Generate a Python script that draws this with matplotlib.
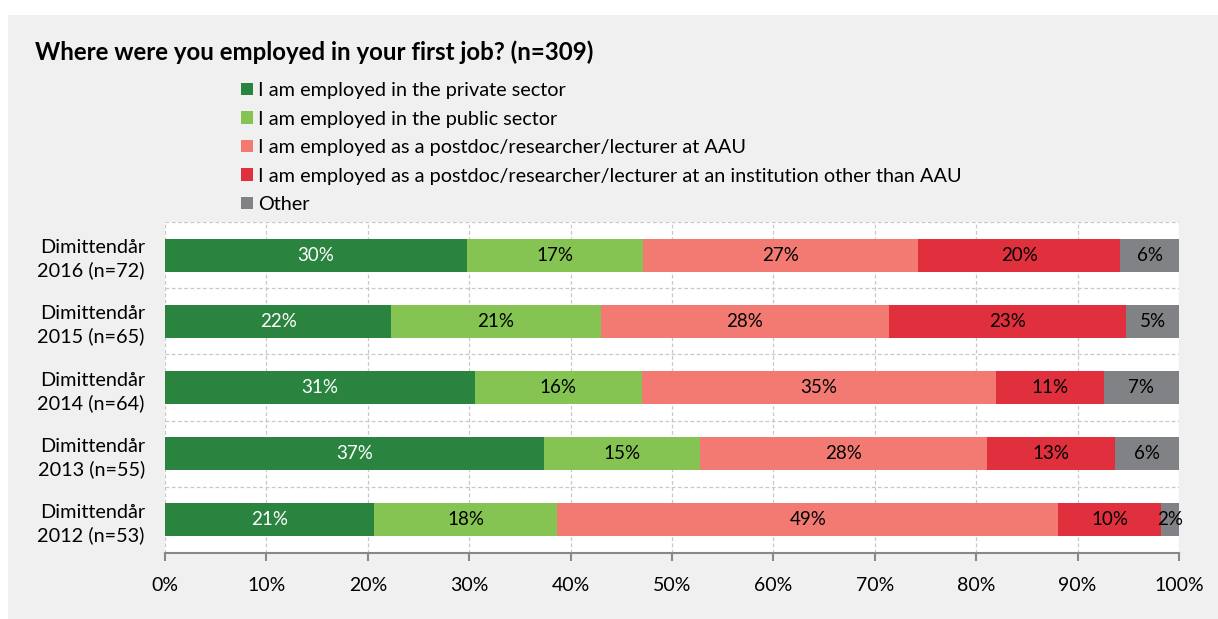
import matplotlib.pyplot as plt
import numpy as np
from matplotlib.patches import Patch, Rectangle
from matplotlib.ticker import FuncFormatter, MultipleLocator, FixedLocator

plt.rcParams['font.family'] = ['Lato', 'DejaVu Sans']

categories = ['Dimittendår\n2016 (n=72)', 'Dimittendår\n2015 (n=65)', 'Dimittendår\n2014 (n=64)',
              'Dimittendår\n2013 (n=55)', 'Dimittendår\n2012 (n=53)']

series = ['I am employed in the private sector',
          'I am employed in the public sector',
          'I am employed as a postdoc/researcher/lecturer at AAU',
          'I am employed as a postdoc/researcher/lecturer at an institution other than AAU',
          'Other']

private = [29.8, 22.3, 30.6, 37.4, 20.6]
public = [17.3, 20.7, 16.4, 15.4, 18.1]
aau = [27.2, 28.4, 35.0, 28.3, 49.4]
other_inst = [19.9, 23.4, 10.6, 12.6, 10.1]
other = [5.8, 5.2, 7.4, 6.3, 1.8]

colors = ['#2a843f', '#85c453', '#f27a73', '#e1303d', '#818285']
text_colors = ['white', 'black', 'black', 'black', 'black']

fig = plt.figure(figsize=(12.18, 6.19), dpi=100)
fig.patch.set_facecolor('white')
# grey panel behind everything
fig.patches.append(Rectangle((8 / 1218, 0), 1, 604 / 619, transform=fig.transFigure,
                             facecolor='#f0f0f0', edgecolor='none', zorder=-10))

ax = fig.add_axes([165 / 1218, 66 / 619, 1014 / 1218, 331 / 619])
ax.set_facecolor('white')

y = np.arange(len(categories))
left = np.zeros(len(categories))
for vals, name, c, tc in zip([private, public, aau, other_inst, other], series, colors, text_colors):
    vals = np.array(vals)
    ax.barh(y, vals, left=left, height=0.5, color=c, label=name, zorder=3)
    for xi, yi, v in zip(left + vals / 2, y, vals):
        ax.text(xi, yi, format(v, '.0f') + '%', ha='center', va='center',
                color=tc, fontsize=13.5, zorder=4)
    left += vals

ax.set_xlim(0, 100)
ax.set_ylim(len(categories) - 0.5, -0.5)
ax.set_yticks(y)
ax.set_yticklabels(categories, fontsize=14.3, ha='right', linespacing=1.35)
ax.tick_params(axis='y', length=0, pad=14.5)
ax.yaxis.set_minor_locator(FixedLocator(np.arange(-0.5, len(categories) - 1, 1.0)))
ax.tick_params(axis='y', which='minor', length=0)

ax.xaxis.set_major_locator(MultipleLocator(10))
ax.xaxis.set_major_formatter(FuncFormatter(lambda v, p: f'{v:.0f}%'))
ax.tick_params(axis='x', labelsize=14, length=6, width=1.5, color='#888888', pad=11,
               direction='out')

ax.grid(axis='x', which='major', linestyle=(0, (3, 2)), color='#c8c8c8', linewidth=0.9, zorder=0)
ax.grid(axis='y', which='minor', linestyle=(0, (3, 2)), color='#c8c8c8', linewidth=0.9, zorder=0)
ax.grid(axis='y', which='major', visible=False)

for s in ['left', 'right', 'top']:
    ax.spines[s].set_visible(False)
ax.spines['bottom'].set_color('#888888')
ax.spines['bottom'].set_linewidth(1.5)

fig.text(35 / 1218, 1 - 52 / 619, 'Where were you employed in your first job? (n=309)',
         fontsize=17.3, fontweight='bold', ha='left', va='center')

handles = [Patch(facecolor=c, edgecolor='none') for c in colors]
fig.legend(handles, series, loc='upper left', bbox_to_anchor=(241 / 1218, 1 - 82 / 619),
           frameon=False, fontsize=14.3, handlelength=0.6, handleheight=0.6,
           handletextpad=0.25, labelspacing=0.58, borderpad=0, borderaxespad=0)

fig.savefig('out.png', dpi=100)
